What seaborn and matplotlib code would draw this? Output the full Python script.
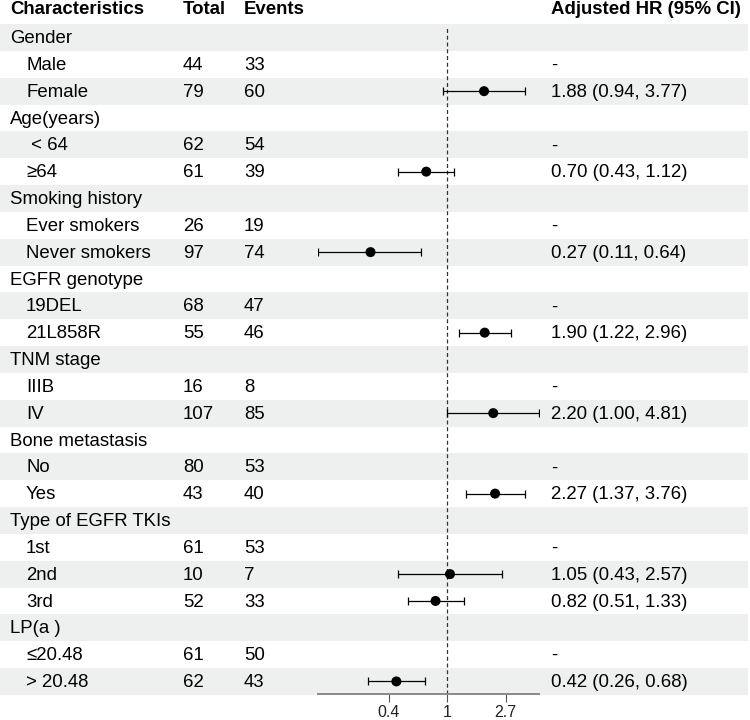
import numpy as np
import pandas as pd
import matplotlib
matplotlib.use("Agg")
import matplotlib.pyplot as plt
import seaborn as sns

sns.set_theme(style="white")
plt.rcParams["font.family"] = ["Liberation Sans", "DejaVu Sans"]

# table content, one entry per row
labels = ["Gender", "Male", "Female",
          "Age(years)", " < 64", "≥64",
          "Smoking history", "Ever smokers", "Never smokers",
          "EGFR genotype", "19DEL", "21L858R",
          "TNM stage", "IIIB", "IV",
          "Bone metastasis", "No", "Yes",
          "Type of EGFR TKIs", "1st", "2nd", "3rd",
          "LP(a )", "≤20.48", "> 20.48"]
is_group = [1, 0, 0, 1, 0, 0, 1, 0, 0, 1, 0, 0, 1, 0, 0, 1, 0, 0, 1, 0, 0, 0, 1, 0, 0]
total = ["", "44", "79", "", "62", "61", "", "26", "97", "", "68", "55", "", "16", "107",
         "", "80", "43", "", "61", "10", "52", "", "61", "62"]
events = ["", "33", "60", "", "54", "39", "", "19", "74", "", "47", "46", "", "8", "85",
          "", "53", "40", "", "53", "7", "33", "", "50", "43"]
hr = [None, None, 1.88, None, None, 0.70, None, None, 0.27, None, None, 1.90, None, None, 2.20,
      None, None, 2.27, None, None, 1.05, 0.82, None, None, 0.42]
hr_lo = [None, None, 0.94, None, None, 0.43, None, None, 0.11, None, None, 1.22, None, None, 1.00,
         None, None, 1.37, None, None, 0.43, 0.51, None, None, 0.26]
hr_hi = [None, None, 3.77, None, None, 1.12, None, None, 0.64, None, None, 2.96, None, None, 4.81,
         None, None, 3.76, None, None, 2.57, 1.33, None, None, 0.68]

tick_vals = [np.exp(-1), 1, np.exp(1)]
tick_labels = ["0.4", "1", "2.7"]

df = pd.DataFrame({"label": labels, "group": is_group, "total": total, "events": events,
                   "hr": hr, "lo": hr_lo, "hi": hr_hi})
df["row"] = np.arange(len(df))

W, H = 750, 720
row0, row_h = 37.5, 26.83   # pixel centre of the first row, row height


def to_row(py):
    return (py - row0) / row_h


fig = plt.figure(figsize=(W / 100, H / 100), dpi=100)

# background axes in pixel-x / row-y coordinates
bg = fig.add_axes([0, 0, 1, 1])
bg.set_xlim(0, W)
bg.set_ylim(to_row(H), to_row(0))
bg.axis("off")

for i in range(0, len(df), 2):
    bg.axhspan(i - 0.5, i + 0.5, xmin=0, xmax=748 / W, color="#eef0ef", lw=0, zorder=0)

fs = 13.4
head_y = to_row(10)
for x, t in [(10, "Characteristics"), (183, "Total"), (244, "Events"), (551, "Adjusted HR (95% CI)")]:
    bg.text(x, head_y, t, fontsize=fs, fontweight="bold", va="center", ha="left", color="black")

for _, r in df.iterrows():
    y = r["row"] + 0.04
    bg.text(10 if r["group"] else 26, y, r["label"], fontsize=fs, va="center", ha="left", color="black")
    bg.text(183, y, r["total"], fontsize=fs, va="center", ha="left", color="black")
    bg.text(244, y, r["events"], fontsize=fs, va="center", ha="left", color="black")
    if pd.notna(r["hr"]):
        s = f"{r['hr']:.2f} ({r['lo']:.2f}, {r['hi']:.2f})"
    elif r["group"] == 0:
        s = "-"
    else:
        s = ""
    bg.text(551, y, s, fontsize=fs, va="center", ha="left", color="black")

# forest panel
x0, x1, y_top, y_bot = 318, 539, 28, 694
axf = fig.add_axes([x0 / W, 1 - y_bot / H, (x1 - x0) / W, (y_bot - y_top) / H])
axf.patch.set_alpha(0)
axf.set_xscale("log")
axf.set_xlim(df["lo"].min(), df["hi"].max())
axf.set_ylim(to_row(y_bot), to_row(y_top))

axf.axvline(1, color="#333333", lw=0.9, dashes=(3.2, 2.2), zorder=1)

est = df.dropna(subset=["hr"])
axf.errorbar(est["hr"], est["row"], xerr=[est["hr"] - est["lo"], est["hi"] - est["hr"]],
             fmt="none", ecolor="black", elinewidth=0.9, capsize=2.8, capthick=0.9, zorder=2)
sns.scatterplot(data=est, x="hr", y="row", ax=axf, color="black", s=52, edgecolor="none",
                legend=False, zorder=3)

for side in ["top", "left", "right"]:
    axf.spines[side].set_visible(False)
axf.spines["bottom"].set_color("#8a8a8a")
axf.spines["bottom"].set_linewidth(1.4)
axf.set_xticks(tick_vals)
axf.set_xticklabels(tick_labels)
axf.minorticks_off()
axf.tick_params(axis="x", bottom=True, length=6, width=0.8, color="#555555",
                labelsize=11.5, labelcolor="#222222", pad=2)
axf.set_yticks([])
axf.set_xlabel("")
axf.set_ylabel("")

fig.savefig("out.png", dpi=100)
